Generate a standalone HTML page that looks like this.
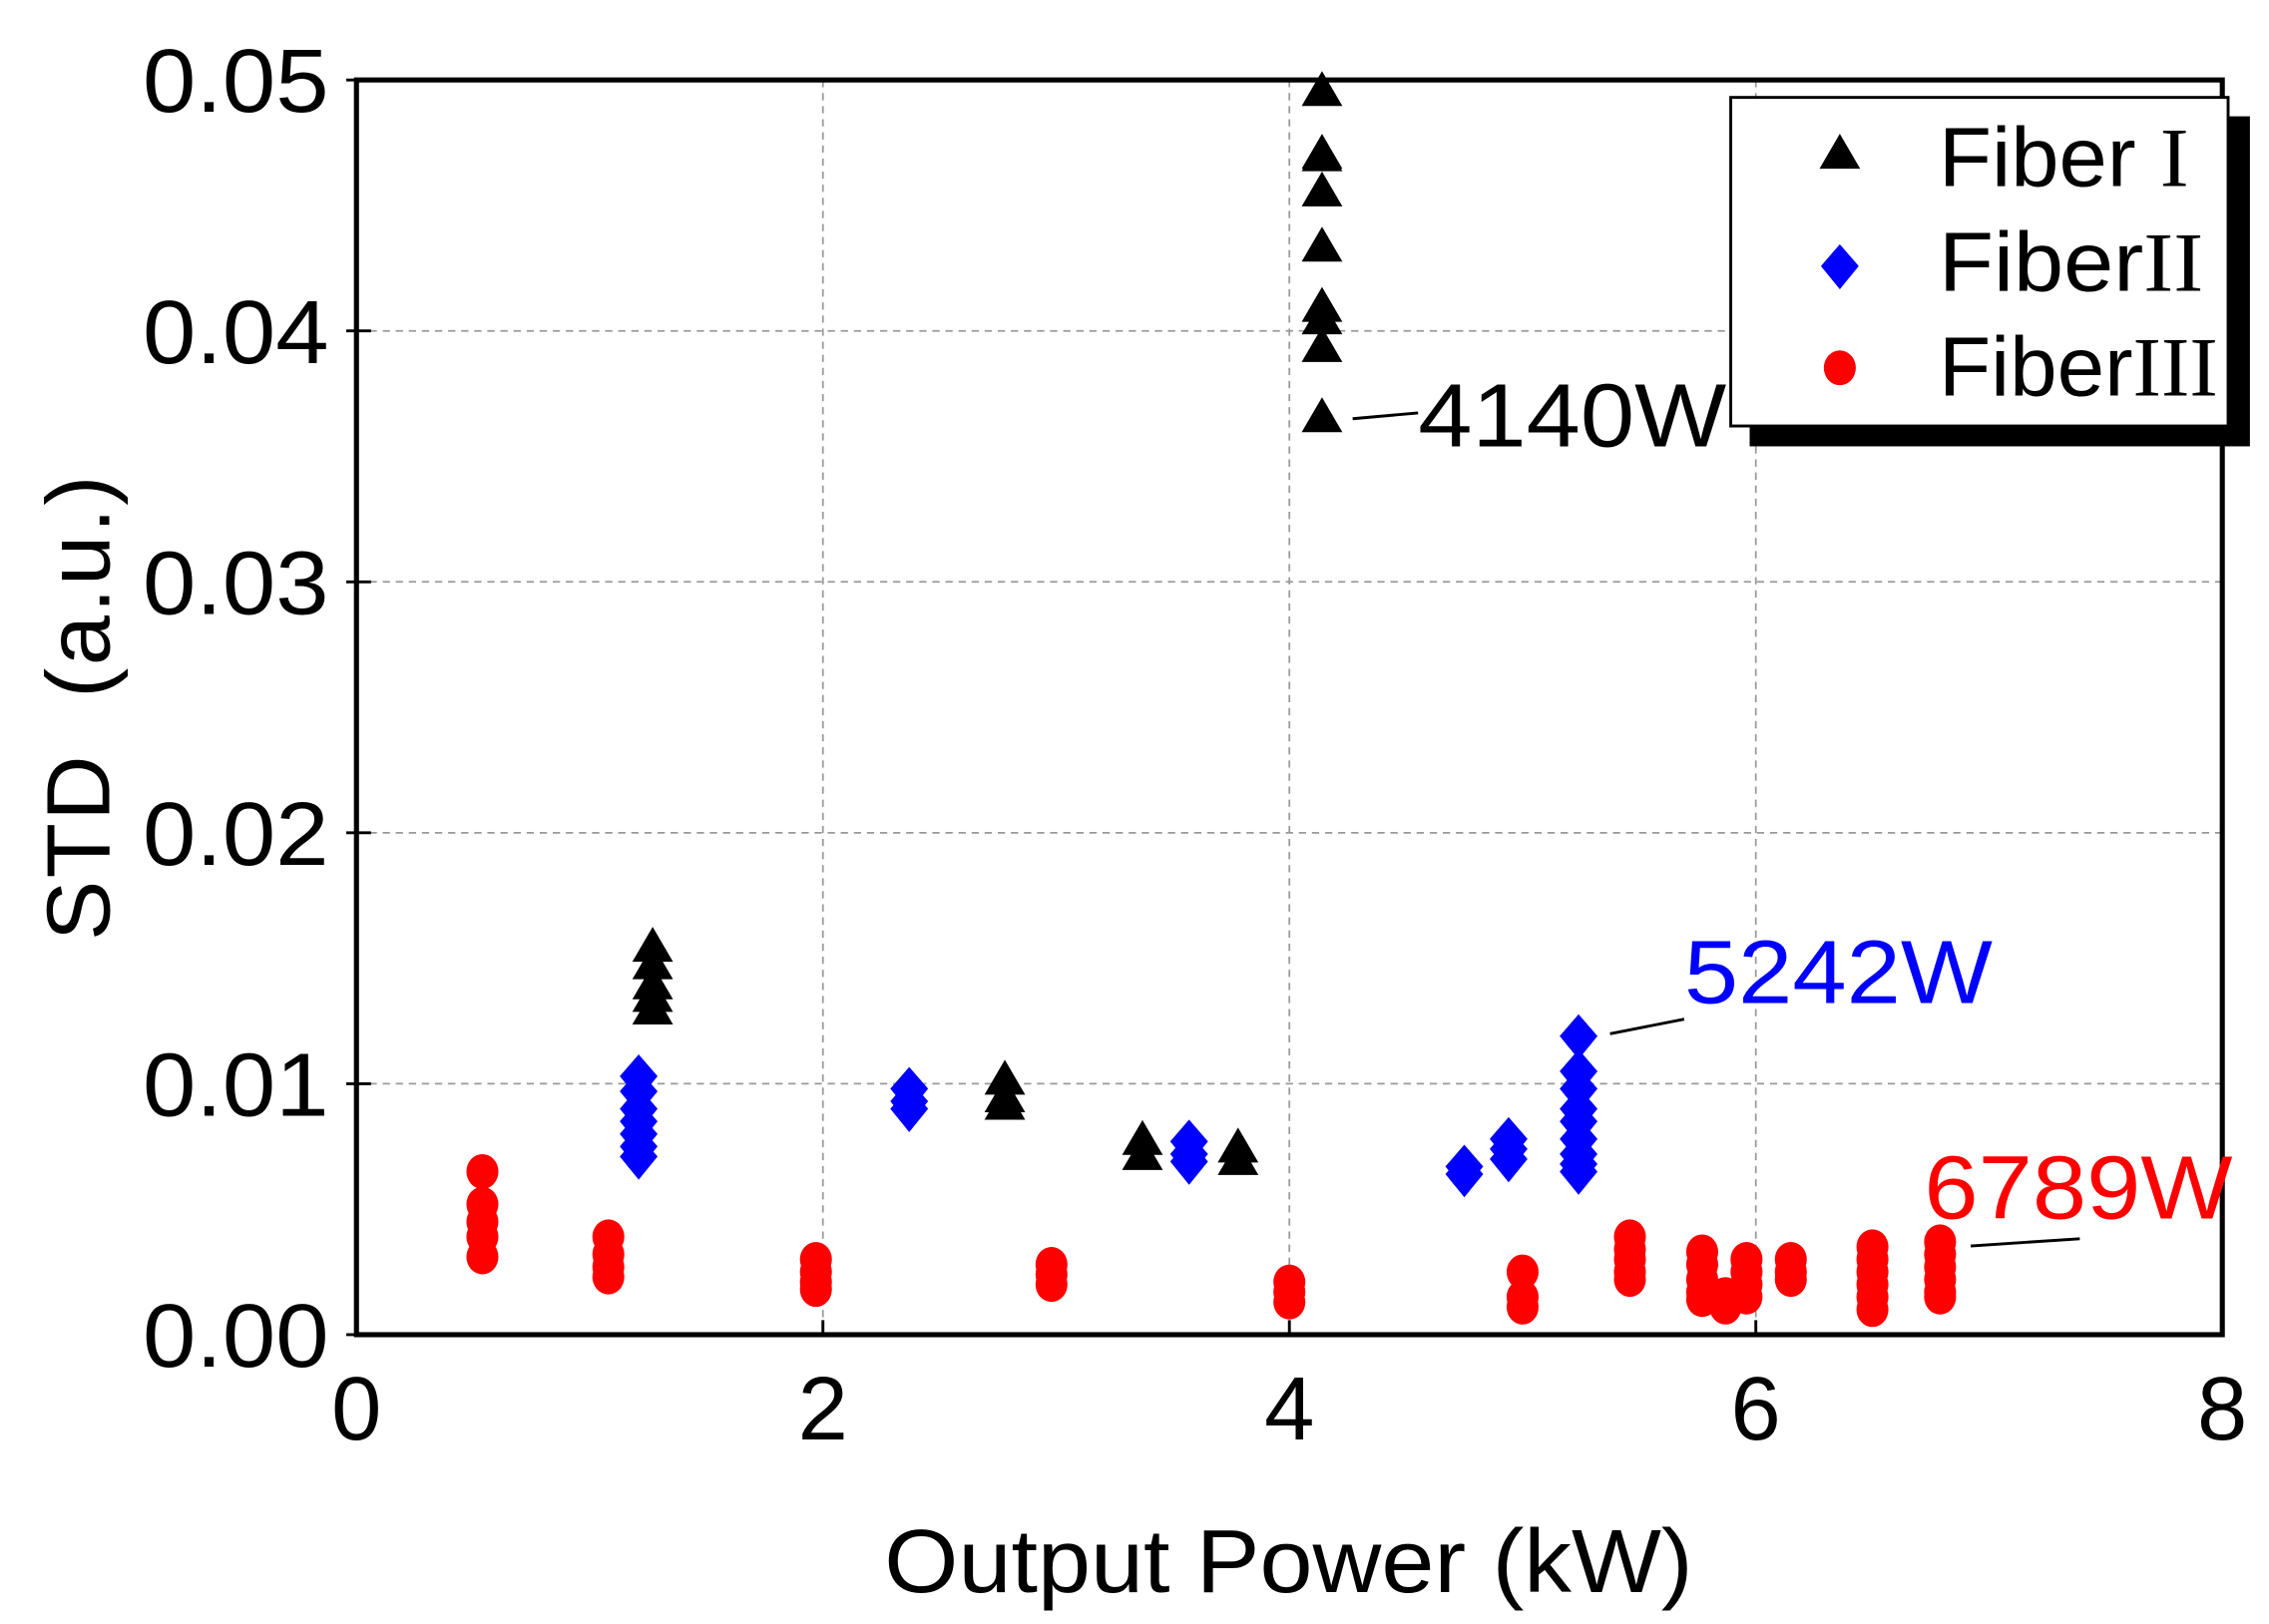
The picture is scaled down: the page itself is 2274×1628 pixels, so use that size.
<!DOCTYPE html>
<html><head><meta charset="utf-8"><style>html,body{margin:0;padding:0;background:#fff}svg{display:block}</style></head>
<body>
<svg id="chart" xmlns="http://www.w3.org/2000/svg" width="2274" height="1628" viewBox="0 0 1560 1117" font-family="Liberation Sans, Arial, sans-serif">
<g id="grid"></g>
<g id="marks"></g>
<rect x="245" y="55" width="1283" height="863" fill="none" stroke="#000" stroke-width="3.5"/>
<g id="axes"></g>
<text x="886" y="1095" font-size="62" text-anchor="middle" textLength="556" lengthAdjust="spacingAndGlyphs">Output Power (kW)</text>
<text transform="translate(75,487) rotate(-90)" font-size="62" text-anchor="middle" textLength="320" lengthAdjust="spacing" xml:space="preserve">STD  (a.u.)</text>
<g>
<line x1="930" y1="288" x2="975" y2="284" stroke="#000" stroke-width="2"/>
<text x="975" y="307" font-size="62" textLength="212" lengthAdjust="spacingAndGlyphs">4140W</text></g>
<g>
<line x1="1107" y1="711" x2="1158" y2="701" stroke="#000" stroke-width="2"/>
<text x="1158" y="690" font-size="62" fill="#0000ff" textLength="212" lengthAdjust="spacingAndGlyphs">5242W</text></g>
<g>
<line x1="1355" y1="857" x2="1430" y2="852" stroke="#000" stroke-width="2"/>
<text x="1323" y="838" font-size="62" fill="#ff0000" textLength="212" lengthAdjust="spacingAndGlyphs">6789W</text></g>
<g>
<rect x="1203" y="80" width="344" height="227" fill="#000"/>
<rect x="1190" y="67" width="342" height="226" fill="#fff" stroke="#000" stroke-width="2"/>
<g>
<polygon points="1265,92 1251,116 1279,116" fill="#000"/>
<text x="1333" y="128" font-size="58" textLength="172" lengthAdjust="spacingAndGlyphs" xml:space="preserve">Fiber <tspan font-family="Liberation Serif, serif">I</tspan></text></g>
<g>
<polygon points="1265,168 1278,183 1265,199 1252,183" fill="#0000ff"/>
<text x="1333" y="200" font-size="58" textLength="182" lengthAdjust="spacingAndGlyphs">Fiber<tspan font-family="Liberation Serif, serif">II</tspan></text></g>
<g>
<ellipse cx="1265" cy="253" rx="11" ry="12" fill="#ff0000"/>
<text x="1333" y="272" font-size="58" textLength="192" lengthAdjust="spacingAndGlyphs">Fiber<tspan font-family="Liberation Serif, serif">III</tspan></text></g>
</g>
</svg>
<script>
const xTicks=[0,2,4,6,8];
const yTicks=[0,0.01,0.02,0.03,0.04,0.05];
const yTickLabels=["0.00","0.01","0.02","0.03","0.04","0.05"];
const f1x=[4.14,4.14,4.14,4.14,4.14,4.14,4.14,4.14,4.14,1.27,1.27,1.27,1.27,1.27,2.78,2.78,2.78,3.37,3.37,3.78,3.78];
const f1y=[0.0496,0.0471,0.047,0.0456,0.0434,0.041,0.0405,0.0394,0.0366,0.0155,0.0148,0.014,0.0135,0.013,0.0102,0.0095,0.0092,0.0078,0.0072,0.0075,0.007];
const f2x=[1.21,1.21,1.21,1.21,1.21,1.21,1.21,2.37,2.37,2.37,3.57,3.57,3.57,4.75,4.75,4.94,4.94,4.94,5.24,5.24,5.24,5.24,5.24,5.24,5.24,5.24,5.24];
const f2y=[0.0103,0.0097,0.009,0.0085,0.008,0.0075,0.0071,0.0098,0.0093,0.009,0.0077,0.0072,0.0069,0.0067,0.0064,0.0078,0.0074,0.007,0.0119,0.0105,0.0098,0.009,0.0085,0.0078,0.0072,0.0068,0.0065];
const f3x=[0.54,0.54,0.54,0.54,0.54,1.08,1.08,1.08,1.08,1.97,1.97,1.97,1.97,2.98,2.98,2.98,4.0,4.0,4.0,5.0,5.0,5.0,5.46,5.46,5.46,5.46,5.46,5.77,5.77,5.77,5.77,5.77,5.87,5.87,5.96,5.96,5.96,5.96,6.15,6.15,6.15,6.5,6.5,6.5,6.5,6.5,6.5,6.79,6.79,6.79,6.79,6.79,6.79];
const f3y=[0.0065,0.0052,0.0045,0.0039,0.0031,0.0039,0.0032,0.0027,0.0023,0.003,0.0025,0.0021,0.0018,0.0028,0.0024,0.002,0.0021,0.0017,0.0013,0.0025,0.0015,0.0011,0.0039,0.0034,0.003,0.0025,0.0022,0.0033,0.0028,0.0022,0.0017,0.0014,0.0016,0.0011,0.003,0.0025,0.002,0.0015,0.003,0.0025,0.0022,0.0035,0.003,0.0025,0.002,0.0015,0.001,0.0037,0.0032,0.0027,0.0022,0.0017,0.0015];
const NS="http://www.w3.org/2000/svg";
const X=v=>245+v/8*1283, Y=v=>918-v/0.05*863;
function mk(tag,attrs,parent){const e=document.createElementNS(NS,tag);for(const k in attrs)e.setAttribute(k,attrs[k]);parent.appendChild(e);return e;}
const grid=document.getElementById('grid'),axes=document.getElementById('axes'),marks=document.getElementById('marks');
xTicks.forEach((t,i)=>{
  if(i>0&&i<xTicks.length-1){const l=mk('line',{x1:X(t),x2:X(t),y1:55,y2:918,stroke:'#999','stroke-width':1.2,'stroke-dasharray':'5,4'},grid);
  
  }
  const tk=mk('line',{x1:X(t),x2:X(t),y1:918,y2:908,stroke:'#000','stroke-width':2},axes);
  
  
  const tx=mk('text',{x:X(t),y:990,'font-size':62,'text-anchor':'middle'},axes);tx.textContent=String(t);
  
  
});
yTicks.forEach((t,i)=>{
  if(i>0&&i<yTicks.length-1){const l=mk('line',{x1:245,x2:1528,y1:Y(t),y2:Y(t),stroke:'#999','stroke-width':1.2,'stroke-dasharray':'5,4'},grid);
  
  }
  const tk=mk('line',{x1:238,x2:255,y1:Y(t),y2:Y(t),stroke:'#000','stroke-width':2},axes);
  
  
  const tx=mk('text',{x:226,y:Y(t)+22,'font-size':62,'text-anchor':'end',textLength:128,lengthAdjust:'spacingAndGlyphs'},axes);tx.textContent=yTickLabels[i];
  
  
});
f3x.forEach((x,i)=>{const cx=X(x),cy=Y(f3y[i]);
  const e=mk('ellipse',{cx:cx,cy:cy,rx:11,ry:12,fill:'#ff0000'},marks);
  
  });
f2x.forEach((x,i)=>{const cx=X(x),cy=Y(f2y[i]);
  const e=mk('polygon',{points:`${cx},${cy-15} ${cx+13},${cy} ${cx},${cy+16} ${cx-13},${cy}`,fill:'#0000ff'},marks);
  
  });
f1x.forEach((x,i)=>{const cx=X(x),cy=Y(f1y[i]);
  const e=mk('polygon',{points:`${cx},${cy-13} ${cx-14},${cy+11} ${cx+14},${cy+11}`,fill:'#000'},marks);
  
  });
</script>
</body></html>
